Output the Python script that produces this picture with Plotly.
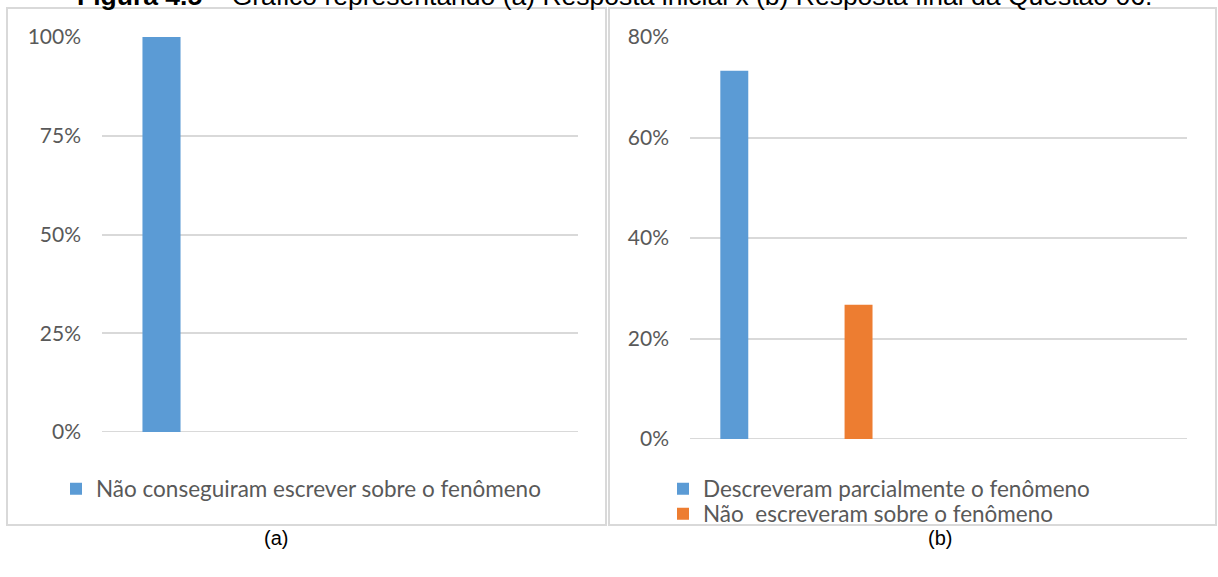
import plotly.graph_objects as go

# Data (share of students, %).
CATEGORIES = ["1", "2", "3", "4"]
SERIES_A = ["Não conseguiram escrever sobre o fenômeno"]
VALUES_A = [100.0]
SERIES_B = ["Descreveram parcialmente o fenômeno", "Não\u00a0 escreveram sobre o fenômeno"]
VALUES_B = [73.3, 26.7]
TICKS_A = [0, 25, 50, 75, 100]
TICKS_B = [0, 20, 40, 60, 80]

BLUE = "#5B9BD5"
ORANGE = "#ED7D31"
GRID = "#D9D9D9"
LABEL = "#595959"
FONT = "Lato"

W, H = 1218, 577


def px(x):
    return x / W


def py(y):
    return 1 - y / H


fig = go.Figure()

# (a) initial answer: one series, first category only
fig.add_trace(go.Bar(
    x=[CATEGORIES[0]], y=[VALUES_A[0]], name=SERIES_A[0],
    marker=dict(color=BLUE, line_width=0), width=0.32,
    xaxis="x", yaxis="y", legend="legend",
))

# (b) final answer: two series in the first two categories, one legend each
for i, (name, val, col) in enumerate(zip(SERIES_B, VALUES_B, [BLUE, ORANGE])):
    fig.add_trace(go.Bar(
        x=[CATEGORIES[i]], y=[val], name=name,
        marker=dict(color=col, line_width=0), width=0.225, offset=-0.256,
        xaxis="x2", yaxis="y2", legend=f"legend{i + 2}",
    ))

xax = dict(type="category", categoryorder="array", categoryarray=CATEGORIES,
           range=[-0.5, 3.5], showticklabels=False, showgrid=False,
           zeroline=False, showline=False, fixedrange=True, automargin=False)
yax = dict(showgrid=True, gridcolor=GRID, gridwidth=1.5, zeroline=False,
           showline=False, tickfont=dict(family=FONT, size=21, color=LABEL),
           ticklabelstandoff=20, fixedrange=True, automargin=False)

# panel frames
shapes = [
    dict(type="rect", xref="paper", yref="paper", x0=px(7), x1=px(606), y0=py(525), y1=py(8),
         line=dict(color=GRID, width=2)),
    dict(type="rect", xref="paper", yref="paper", x0=px(609), x1=px(1216), y0=py(525), y1=py(8),
         line=dict(color=GRID, width=2)),
]
# baselines at 0%
for xa, ya in (("x", "y"), ("x2", "y2")):
    shapes.append(dict(type="line", xref=f"{xa} domain", yref=ya, x0=0, x1=1, y0=0, y1=0,
                       line=dict(color=GRID, width=2), layer="below"))

annotations = [
    dict(text="<b>Figura 4.5</b> – Gráfico representando (a) Resposta inicial x (b) Resposta final da Questão 06.",
         xref="paper", yref="paper", x=px(614), y=py(-4), xanchor="center", yanchor="middle",
         showarrow=False, font=dict(family="Liberation Sans", size=26.5, color="black")),
    dict(text="(a)", xref="paper", yref="paper", x=px(276), y=py(538), xanchor="center",
         yanchor="middle", showarrow=False, font=dict(family="Liberation Sans", size=20, color="black")),
    dict(text="(b)", xref="paper", yref="paper", x=px(940), y=py(538), xanchor="center",
         yanchor="middle", showarrow=False, font=dict(family="Liberation Sans", size=20, color="black")),
]

legend_font = dict(family=FONT, size=22.5, color=LABEL)
leg = dict(xanchor="left", yanchor="middle", font=legend_font,
           bgcolor="rgba(0,0,0,0)", itemclick=False, borderwidth=0)

fig.update_layout(
    width=W, height=H,
    margin=dict(l=0, r=0, t=0, b=0),
    paper_bgcolor="white", plot_bgcolor="white",
    barmode="overlay",
    xaxis=dict(domain=[px(102), px(578)], anchor="y", **xax),
    yaxis=dict(domain=[py(432), py(37)], anchor="x", range=[0, 100], tickvals=TICKS_A,
               ticktext=[f"{t}%" for t in TICKS_A], **yax),
    xaxis2=dict(domain=[px(690), px(1187)], anchor="y2", **xax),
    yaxis2=dict(domain=[py(439), py(37)], anchor="x2", range=[0, 80], tickvals=TICKS_B,
                ticktext=[f"{t}%" for t in TICKS_B], **yax),
    legend=dict(x=px(56), y=py(489), **leg),
    legend2=dict(x=px(663), y=py(489), **leg),
    legend3=dict(x=px(663), y=py(514), **leg),
    showlegend=True,
    shapes=shapes,
    annotations=annotations,
)

fig.write_html("out.html", config={"displayModeBar": False},
               post_script="document.body.style.margin='0';document.body.style.overflow='hidden';")
